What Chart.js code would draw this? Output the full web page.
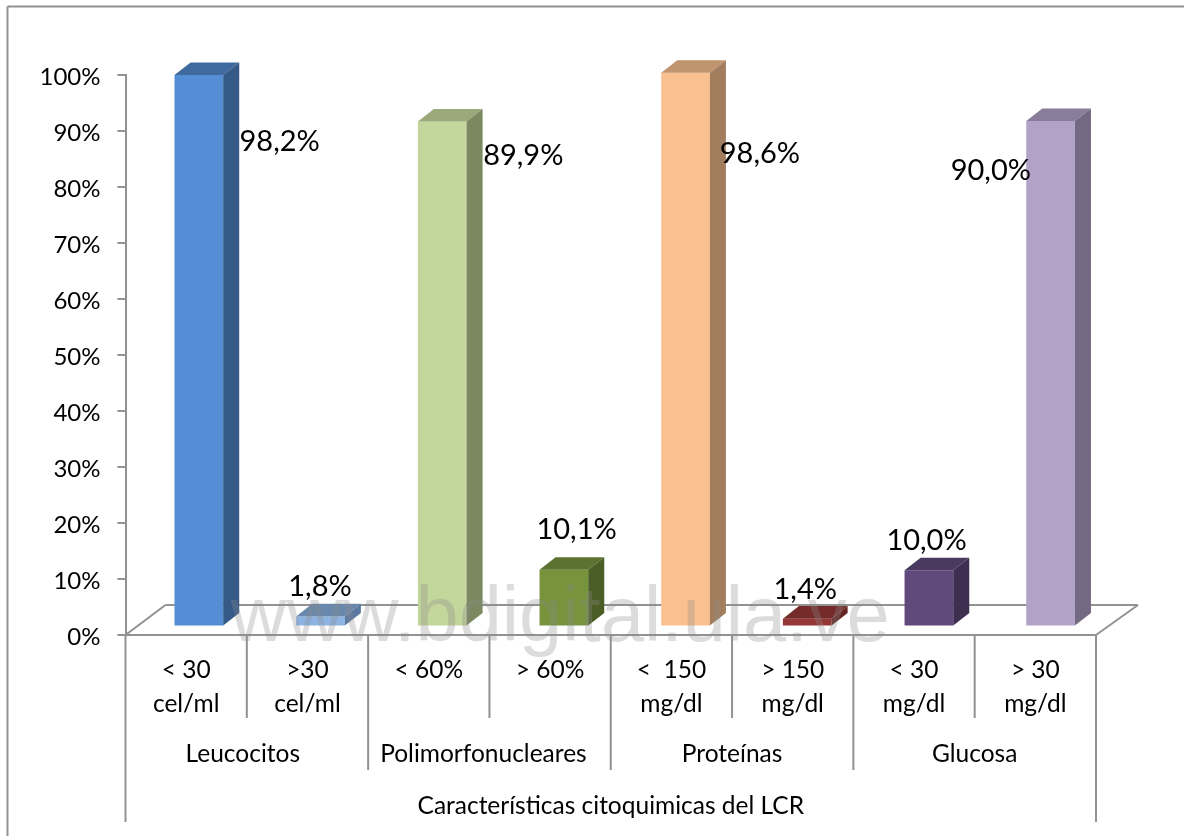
<!DOCTYPE html>
<html lang="es">
<head>
<meta charset="utf-8">
<title>Características citoquimicas del LCR</title>
<script src="https://cdn.jsdelivr.net/npm/chart.js@4/dist/chart.umd.min.js"></script>
<style>
  html, body { margin: 0; padding: 0; background: #fff; }
  canvas { display: block; }
</style>
</head>
<body>
<canvas id="citoChart" width="1184" height="836"></canvas>
<script>
// Valores en porcentaje
const subLabels = [
  ['< 30', 'cel/ml'], ['>30', 'cel/ml'],
  ['< 60%'], ['> 60%'],
  ['<  150', 'mg/dl'], ['> 150', 'mg/dl'],
  ['< 30', 'mg/dl'], ['> 30', 'mg/dl']
];
const groupLabels = ['Leucocitos', 'Polimorfonucleares', 'Proteínas', 'Glucosa'];
const axisTitle = 'Características citoquimicas del LCR';
const percentValues = [98.2, 1.8, 89.9, 10.1, 98.6, 1.4, 10.0, 90.0];
const yTicks = [0, 10, 20, 30, 40, 50, 60, 70, 80, 90, 100];

// Colores por barra: frente, cara superior y cara lateral
const frontColors = ['#558ed5', '#8db4e3', '#c3d69b', '#77933c', '#fac090', '#953735', '#604a7b', '#b3a2c7'];
const topColors = ['#3f6a9f', '#6a87ac', '#9aa87a', '#5c7230', '#c0946f', '#742b29', '#4a3960', '#8a7d9b'];
const sideColors = ['#355a88', '#5c7a9f', '#7b8860', '#4b5e25', '#a37e5e', '#632422', '#3e2f50', '#736982'];

// Desplazamiento de cada etiqueta respecto al centro superior de su barra
const labelShifts = [[81, 65], [0, -30], [82, 33], [14, -40], [76, 79], [0, -29], [0, -30], [-57, 48]];
const groupShifts = [-4, -6, 0, 0];

const LINE_COLOR = '#929292';
const FONT = 'Lato, Carlito, sans-serif';

// El plano de las barras queda un poco detrás del borde del piso
const BAR_DX = 12.5, BAR_DY = -8.5, BAR_SCALE = 1.003;
const DEPTH_X = 16, DEPTH_Y = 12.5;
const FLOOR_DX = 40, FLOOR_DY = 30;

function line(ctx, x1, y1, x2, y2) {
  ctx.beginPath();
  ctx.moveTo(x1, y1);
  ctx.lineTo(x2, y2);
  ctx.stroke();
}

function face(ctx, pts, color) {
  ctx.fillStyle = color;
  ctx.beginPath();
  pts.forEach((p, i) => (i ? ctx.lineTo(p[0], p[1]) : ctx.moveTo(p[0], p[1])));
  ctx.closePath();
  ctx.fill();
}

// Marco exterior, piso y separadores del eje de categorías
const framePlugin = {
  id: 'frame',
  beforeDatasetsDraw(chart) {
    const { ctx, chartArea: a } = chart;
    const step = (a.right - a.left) / subLabels.length;
    ctx.save();
    ctx.strokeStyle = LINE_COLOR;
    ctx.lineWidth = 2;

    line(ctx, 7.5, 6.5, chart.width, 6.5);
    line(ctx, 7.5, 6.5, 7.5, chart.height);

    // piso
    line(ctx, a.left, a.bottom, a.left + FLOOR_DX, a.bottom - FLOOR_DY);
    line(ctx, a.left + FLOOR_DX, a.bottom - FLOOR_DY, a.right + FLOOR_DX + 2, a.bottom - FLOOR_DY);
    line(ctx, a.right + FLOOR_DX + 2, a.bottom - FLOOR_DY, a.right, a.bottom);
    line(ctx, a.left, a.bottom, a.right, a.bottom);

    // separadores por nivel
    subLabels.forEach((_, i) => {
      const sepX = a.left + step * i;
      const isGroup = i % 2 === 0;
      const end = i === 0 ? 822 : (isGroup ? 770 : 718);
      line(ctx, sepX, a.bottom, sepX, end);
    });
    line(ctx, a.right, a.bottom, a.right, 822);

    ctx.fillStyle = '#000';
    ctx.font = '24.5px ' + FONT;
    ctx.textAlign = 'center';
    ctx.textBaseline = 'middle';
    groupLabels.forEach((g, i) => {
      ctx.fillText(g, a.left + step * (2 * i + 1) + groupShifts[i], 754);
    });
    ctx.fillText(axisTitle, (a.left + a.right) / 2, 806);
    ctx.restore();
  }
};

// Las barras se dibujan desplazadas hacia el fondo, con sus caras de profundidad
const depthPlugin = {
  id: 'depth',
  beforeDatasetDraw(chart) {
    const { ctx, chartArea: a } = chart;
    ctx.save();
    ctx.translate(a.left + BAR_DX, a.bottom + BAR_DY);
    ctx.scale(BAR_SCALE, BAR_SCALE);
    ctx.translate(-a.left, -a.bottom);
  },
  afterDatasetDraw(chart, args) {
    const { ctx } = chart;
    args.meta.data.forEach((bar, i) => {
      const r = bar.x + bar.width / 2, l = bar.x - bar.width / 2;
      const t = bar.y, b = bar.base;
      face(ctx, [[l, t], [r, t], [r + DEPTH_X, t - DEPTH_Y], [l + DEPTH_X, t - DEPTH_Y]], topColors[i]);
      face(ctx, [[r, t], [r + DEPTH_X, t - DEPTH_Y], [r + DEPTH_X, b - DEPTH_Y], [r, b]], sideColors[i]);
    });
    ctx.restore();
  }
};

// Etiquetas de valor y texto de fondo
const labelPlugin = {
  id: 'valueLabels',
  afterDatasetsDraw(chart) {
    const { ctx } = chart;
    const meta = chart.getDatasetMeta(0);
    ctx.save();
    ctx.fillStyle = '#000';
    ctx.font = '29px ' + FONT;
    ctx.textAlign = 'center';
    ctx.textBaseline = 'middle';
    meta.data.forEach((bar, i) => {
      const text = percentValues[i].toFixed(1).replace('.', ',') + '%';
      ctx.fillText(text, bar.x + BAR_DX + labelShifts[i][0], bar.y + BAR_DY + labelShifts[i][1]);
    });

    ctx.fillStyle = 'rgba(140,140,140,0.3)';
    ctx.font = '77.5px "Liberation Sans", Arial, sans-serif';
    ctx.textBaseline = 'alphabetic';
    ctx.fillText('www.bdigital.ula.ve', 560, 641);
    ctx.restore();
  }
};

new Chart(document.getElementById('citoChart').getContext('2d'), {
  type: 'bar',
  data: {
    labels: subLabels,
    datasets: [{
      data: percentValues,
      backgroundColor: frontColors,
      borderWidth: 0,
      barPercentage: 0.4,
      categoryPercentage: 1
    }]
  },
  options: {
    responsive: false,
    animation: false,
    layout: { padding: { top: 75, right: 88, bottom: 0, left: 0 } },
    plugins: {
      legend: { display: false },
      tooltip: { enabled: false }
    },
    scales: {
      x: {
        afterFit: (scale) => { scale.height = 201; },
        grid: { display: false },
        border: { display: false },
        ticks: {
          autoSkip: false,
          maxRotation: 0,
          padding: 11,
          color: '#000',
          font: { family: FONT, size: 24.5, lineHeight: 1.35 }
        }
      },
      y: {
        min: 0,
        max: 100,
        afterFit: (scale) => { scale.width = 125.5; },
        afterBuildTicks: (scale) => { scale.ticks = yTicks.map(v => ({ value: v })); },
        grid: { drawOnChartArea: false, color: LINE_COLOR, lineWidth: 2, tickLength: 8 },
        border: { color: LINE_COLOR, width: 2 },
        ticks: {
          padding: 17,
          color: '#000',
          // la línea vacía baja el texto un par de píxeles respecto a la marca
          font: { family: FONT, size: 24, lineHeight: 0.2 },
          callback: (v) => ['', v + '%']
        }
      }
    }
  },
  plugins: [framePlugin, depthPlugin, labelPlugin]
});
</script>
</body>
</html>
